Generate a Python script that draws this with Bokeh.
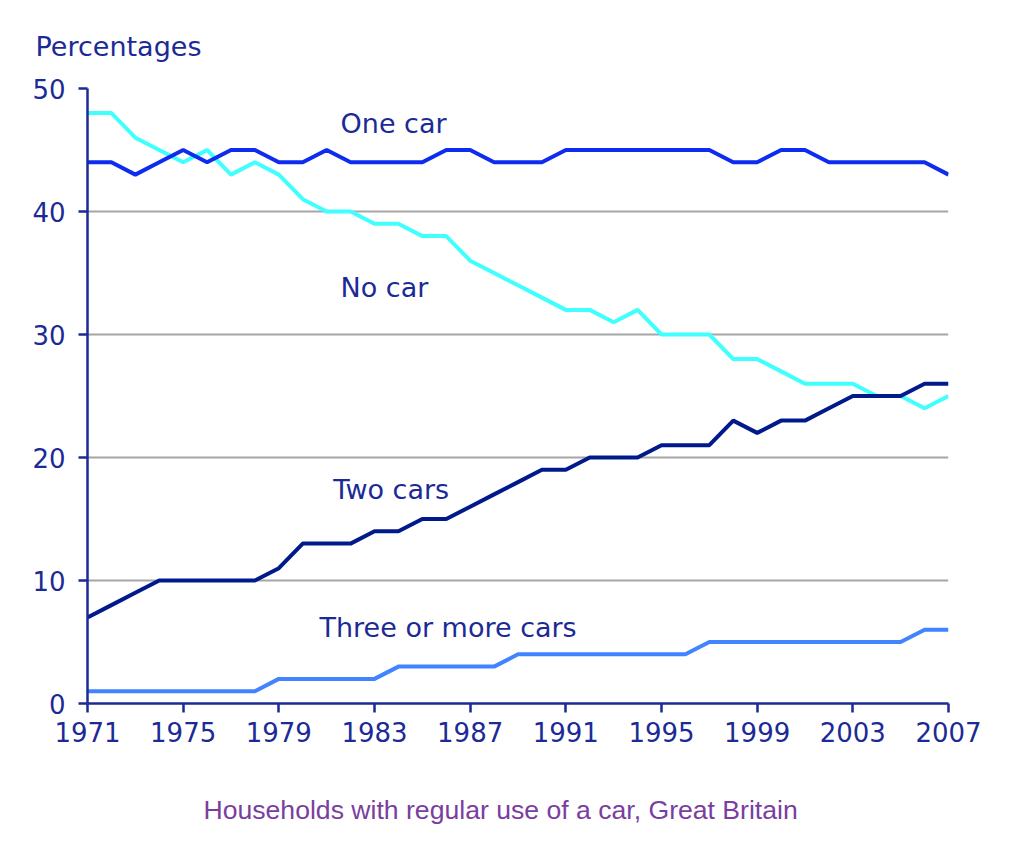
from bokeh.embed import file_html
from bokeh.models import ColumnDataSource, FixedTicker, Label, Range1d, Title
from bokeh.plotting import figure
from bokeh.resources import INLINE

# data, one value per year
years = list(range(1971, 2008))
one_car = [44, 44, 43, 44, 45, 44, 45, 45, 44, 44, 45, 44, 44, 44, 44, 45, 45, 44, 44,
           44, 45, 45, 45, 45, 45, 45, 45, 44, 44, 45, 45, 44, 44, 44, 44, 44, 43]
no_car = [48, 48, 46, 45, 44, 45, 43, 44, 43, 41, 40, 40, 39, 39, 38, 38, 36, 35, 34,
          33, 32, 32, 31, 32, 30, 30, 30, 28, 28, 27, 26, 26, 26, 25, 25, 24, 25]
two_cars = [7, 8, 9, 10, 10, 10, 10, 10, 11, 13, 13, 13, 14, 14, 15, 15, 16, 17, 18,
            19, 19, 20, 20, 20, 21, 21, 21, 23, 22, 23, 23, 24, 25, 25, 25, 26, 26]
three_plus = [1, 1, 1, 1, 1, 1, 1, 1, 2, 2, 2, 2, 2, 3, 3, 3, 3, 3, 4,
              4, 4, 4, 4, 4, 4, 4, 5, 5, 5, 5, 5, 5, 5, 5, 5, 6, 6]
x_ticks = [1971, 1975, 1979, 1983, 1987, 1991, 1995, 1999, 2003, 2007]
y_ticks = [0, 10, 20, 30, 40, 50]

NAVY = "#1c2a96"
FONT = "DejaVu Sans"

src = ColumnDataSource(dict(year=years, one=one_car, none=no_car,
                            two=two_cars, three=three_plus))

p = figure(width=1008, height=846, output_backend="svg", toolbar_location=None,
           x_range=Range1d(1971, 2007), y_range=Range1d(0, 50))
# fix the plotting area so the outer texts cannot squeeze it
p.frame_width = 861
p.frame_height = 615
p.min_border_left = 87
p.min_border_right = 60
p.min_border_top = 88
p.min_border_bottom = 130
p.outline_line_color = None
p.background_fill_color = "white"
p.border_fill_color = "white"

p.xgrid.grid_line_color = None
p.ygrid.grid_line_color = "#a6a6a6"
p.ygrid.grid_line_width = 2

for ax in (p.xaxis[0], p.yaxis[0]):
    ax.axis_line_color = NAVY
    ax.axis_line_width = 2.5
    ax.major_tick_line_color = NAVY
    ax.major_tick_line_width = 2.5
    ax.major_tick_out = 9
    ax.major_tick_in = 0
    ax.minor_tick_line_color = None
    ax.major_label_text_color = NAVY
    ax.major_label_text_font = FONT
    ax.major_label_text_font_size = "26px"
p.xaxis.ticker = FixedTicker(ticks=x_ticks)
p.yaxis.ticker = FixedTicker(ticks=y_ticks)
p.xaxis.major_label_standoff = 9
p.yaxis.major_label_standoff = 13

p.line("year", "none", source=src, line_color="#40ffff", line_width=4)
p.line("year", "three", source=src, line_color="#4283ff", line_width=4)
p.line("year", "two", source=src, line_color="#001a8c", line_width=4)
p.line("year", "one", source=src, line_color="#0d2cf0", line_width=4)


def note(x, y, text):
    p.add_layout(Label(x=x, y=y, text=text, text_color=NAVY, text_font=FONT,
                       text_font_size="27px", text_align="left", text_baseline="middle"))


note(1981.58, 47.15, "One car")
note(1981.58, 33.8, "No car")
note(1981.28, 17.4, "Two cars")
note(1980.70, 6.18, "Three or more cars")

# texts outside the frame go in as titles
p.add_layout(Title(text="Percentages", align="left", offset=-52, standoff=53,
                   text_color=NAVY, text_font=FONT, text_font_size="27px",
                   text_font_style="normal"), "above")
p.add_layout(Title(text="Households with regular use of a car, Great Britain",
                   align="left", offset=116, standoff=97, text_color="#7a3ea0",
                   text_font="Liberation Sans", text_font_size="26.6px",
                   text_font_style="normal"), "below")

open("out.html", "w").write(file_html(p, INLINE))
